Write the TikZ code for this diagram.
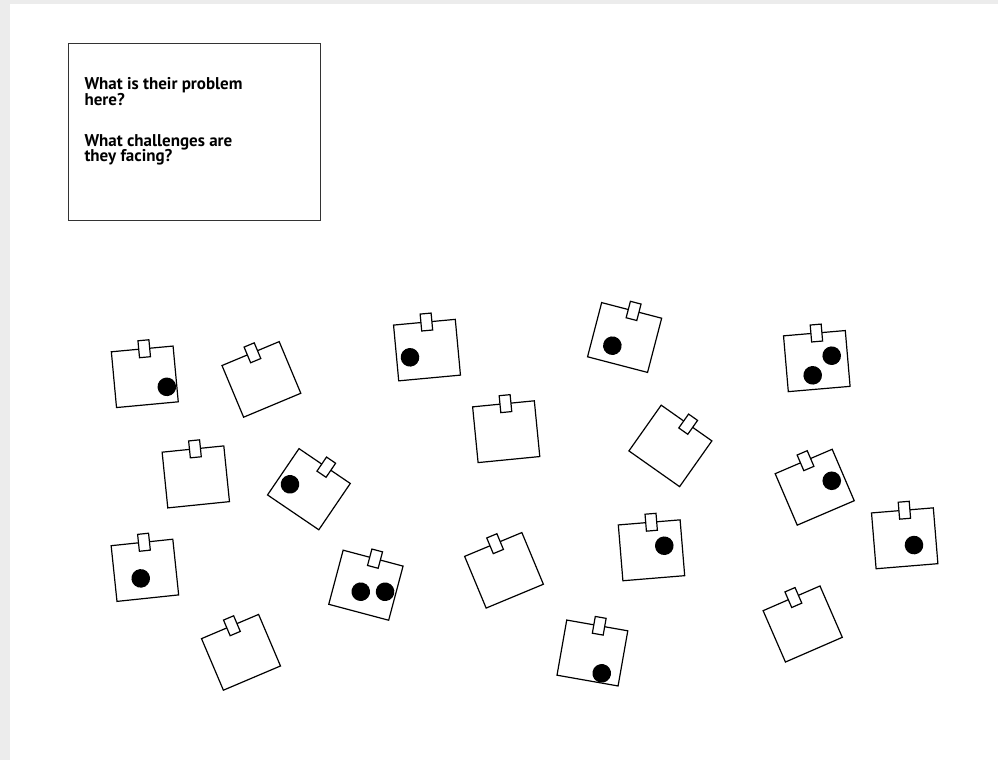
\documentclass[tikz,border=0pt]{standalone}
\usepackage{fontspec}
\setmainfont{PT Sans}
\definecolor{framegray}{RGB}{236,236,236}
\tikzset{
  notebox/.style={draw=black, fill=white, line width=1.2pt, minimum width=62pt, minimum height=56pt, inner sep=0pt, line join=miter},
  notetab/.style={draw=black, fill=white, line width=1.2pt, minimum width=11pt, minimum height=17pt, inner sep=0pt},
  notedot/.style={circle, fill=black, minimum size=18.6pt, inner sep=0pt},
  place/.style n args={3}{shift={(#1,#2)}, rotate=#3, transform shape},
  qtext/.style={anchor=base west, inner sep=0pt, font=\bfseries\fontsize{17}{19}\selectfont},
}
\begin{document}
\begin{tikzpicture}[x=1pt, y=-1pt]
\useasboundingbox (0,0) rectangle (998,760);
\fill[white] (0,0) rectangle (998,760);
\fill[framegray] (0,0) rectangle (998,4);
\fill[framegray] (0,0) rectangle (10,760);

\node[draw=black!80, line width=0.9pt, minimum width=252pt, minimum height=177pt, anchor=north west, inner sep=0pt] (qbox) at (68,43) {};
\node[qtext] (q1) at (84.3,89.3) {What is their problem};
\node[qtext] (q2) at (84.3,105.8) {here?};
\node[qtext] (q3) at (84.3,146) {What challenges are};
\node[qtext] (q4) at (84.3,161.7) {they facing?};

\begin{scope}[place={144.8}{376.8}{5.3}]
  \node[notebox] (n1) at (0,0) {}; \node[notetab] (n1t) at (2,-28) {};
  \node[notedot] (n1d1) at (21,12) {};
\end{scope}
\begin{scope}[place={261.4}{379.4}{22.7}]
  \node[notebox] (n2) at (0,0) {}; \node[notetab] (n2t) at (2,-28) {};
\end{scope}
\begin{scope}[place={308.9}{489.2}{-34.2}]
  \node[notebox] (n3) at (0,0) {}; \node[notetab] (n3t) at (2,-28) {};
  \node[notedot] (n3d1) at (-18.4,6.6) {};
\end{scope}
\begin{scope}[place={365.9}{585.2}{-14.9}]
  \node[notebox] (n4) at (0,0) {}; \node[notetab] (n4t) at (2,-28) {};
  \node[notedot] (n4d1) at (-3.3,7.6) {};
  \node[notedot] (n4d2) at (20.2,1.4) {};
\end{scope}
\begin{scope}[place={624.6}{337.5}{-14.6}]
  \node[notebox] (n5) at (0,0) {}; \node[notetab] (n5t) at (2,-28) {};
  \node[notedot] (n5d1) at (-9.8,11) {};
\end{scope}
\begin{scope}[place={670.4}{445.9}{-35.2}]
  \node[notebox] (n6) at (0,0) {}; \node[notetab] (n6t) at (2,-28) {};
\end{scope}
\begin{scope}[place={816.8}{361.1}{4.9}]
  \node[notebox] (n7) at (0,0) {}; \node[notetab] (n7t) at (2,-28) {};
  \node[notedot] (n7d1) at (15.3,-4.1) {};
  \node[notedot] (n7d2) at (-5.3,13.8) {};
\end{scope}
\begin{scope}[place={814.7}{487.2}{23.2}]
  \node[notebox] (n8) at (0,0) {}; \node[notetab] (n8t) at (2,-28) {};
  \node[notedot] (n8d1) at (18.2,0.8) {};
\end{scope}
\begin{scope}[place={904.7}{538.3}{4.7}]
  \node[notebox] (n9) at (0,0) {}; \node[notetab] (n9t) at (2,-28) {};
  \node[notedot] (n9d1) at (8.7,7.5) {};
\end{scope}
\begin{scope}[place={195.8}{476.9}{5.8}]
  \node[notebox] (n10) at (0,0) {}; \node[notetab] (n10t) at (2,-28) {};
\end{scope}
\begin{scope}[place={144.9}{570.3}{6}]
  \node[notebox] (n11) at (0,0) {}; \node[notetab] (n11t) at (2,-28) {};
  \node[notedot] (n11d1) at (-5,7.6) {};
\end{scope}
\begin{scope}[place={241}{652.3}{23}]
  \node[notebox] (n12) at (0,0) {}; \node[notetab] (n12t) at (2,-28) {};
\end{scope}
\begin{scope}[place={427}{350.1}{5.3}]
  \node[notebox] (n13) at (0,0) {}; \node[notetab] (n13t) at (2,-28) {};
  \node[notedot] (n13d1) at (-17.6,5.6) {};
\end{scope}
\begin{scope}[place={506.2}{431.7}{5.6}]
  \node[notebox] (n14) at (0,0) {}; \node[notetab] (n14t) at (2,-28) {};
\end{scope}
\begin{scope}[place={504}{570.3}{22.6}]
  \node[notebox] (n15) at (0,0) {}; \node[notetab] (n15t) at (2,-28) {};
\end{scope}
\begin{scope}[place={651.5}{550.3}{4.7}]
  \node[notebox] (n16) at (0,0) {}; \node[notetab] (n16t) at (2,-28) {};
  \node[notedot] (n16d1) at (13.1,-3.5) {};
\end{scope}
\begin{scope}[place={592.4}{653}{-10}]
  \node[notebox] (n17) at (0,0) {}; \node[notetab] (n17t) at (2,-28) {};
  \node[notedot] (n17d1) at (12.7,18.4) {};
\end{scope}
\begin{scope}[place={802.7}{624}{23.5}]
  \node[notebox] (n18) at (0,0) {}; \node[notetab] (n18t) at (2,-28) {};
\end{scope}
\end{tikzpicture}
\end{document}
